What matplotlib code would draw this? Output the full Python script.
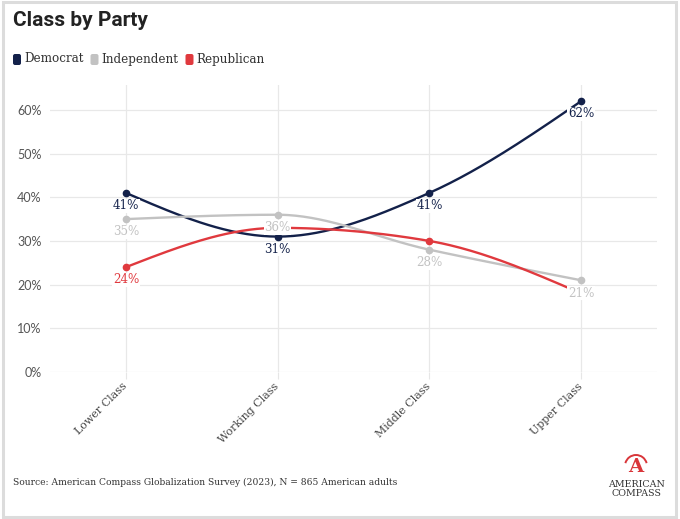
import numpy as np
import matplotlib
matplotlib.use("Agg")
import matplotlib.pyplot as plt
from matplotlib.patches import FancyBboxPatch, Rectangle, Arc
from matplotlib.transforms import IdentityTransform

categories = ["Lower Class", "Working Class", "Middle Class", "Upper Class"]
democrat = [41, 31, 41, 62]
independent = [35, 36, 28, 21]
republican = [24, 33, 30, 18]
y_ticks = [0, 10, 20, 30, 40, 50, 60]

series = [
    ("Democrat", democrat, "#13214a", [True, True, True, True]),
    ("Independent", independent, "#c2c2c2", [True, True, True, True]),
    ("Republican", republican, "#e0393e", [True, False, False, False]),
]

SERIF = "DejaVu Serif"
SANS = "Lato"
W, H = 680, 519


def monotone_x(x, y, n=60):
    # d3 curveMonotoneX style hermite interpolation
    x = np.asarray(x, float)
    y = np.asarray(y, float)
    h = np.diff(x)
    s = np.diff(y) / h
    t = np.zeros_like(y)
    for i in range(1, len(y) - 1):
        p = (s[i - 1] * h[i] + s[i] * h[i - 1]) / (h[i - 1] + h[i])
        t[i] = (np.sign(s[i - 1]) + np.sign(s[i])) * min(abs(s[i - 1]), abs(s[i]), 0.5 * abs(p))
    t[0] = (3 * s[0] - t[1]) / 2
    t[-1] = (3 * s[-1] - t[-2]) / 2
    xs, ys = [], []
    for i in range(len(x) - 1):
        u = np.linspace(0, 1, n)
        h00 = 2 * u**3 - 3 * u**2 + 1
        h10 = u**3 - 2 * u**2 + u
        h01 = -2 * u**3 + 3 * u**2
        h11 = u**3 - u**2
        xs.append(x[i] + u * h[i])
        ys.append(h00 * y[i] + h10 * h[i] * t[i] + h01 * y[i + 1] + h11 * h[i] * t[i + 1])
    return np.concatenate(xs), np.concatenate(ys)


fig = plt.figure(figsize=(W / 100, H / 100), dpi=100)
px = IdentityTransform()
fig.patches.append(Rectangle((0.004, 0.004), 0.99, 0.992, transform=fig.transFigure,
                             fill=False, edgecolor="#dcdcdc", linewidth=2.2))

ax = fig.add_axes([50 / W, 1 - 372 / H, 607 / W, 287 / H])
xpos = np.arange(len(categories))

for name, vals, color, show in series:
    cx, cy = monotone_x(xpos, vals)
    ax.plot(cx, cy, color=color, lw=1.7, zorder=3, solid_capstyle="round")
    ax.plot(xpos, vals, "o", color=color, ms=4.5, zorder=4)

for name, vals, color, show in series:
    for xi, v, s in zip(xpos, vals, show):
        if not s:
            continue
        ax.annotate(f"{v}%", (xi, v), xytext=(0, -4.5), textcoords="offset points",
                    ha="center", va="top", fontsize=8.6, family=SERIF, color=color,
                    zorder=6,
                    bbox=dict(boxstyle="square,pad=0.05", fc="white", ec="none"))

ax.set_xlim(-0.5, len(categories) - 0.5)
ax.set_ylim(0, 65.7)
ax.set_yticks(y_ticks, [f"{v}%" for v in y_ticks])
ax.set_xticks(xpos, categories)
for lab in ax.get_xticklabels():
    lab.set_rotation(45)
    lab.set_rotation_mode("anchor")
    lab.set_ha("right")
    lab.set_va("center")
    lab.set_family(SERIF)
    lab.set_fontsize(7.9)
    lab.set_color("#444444")
for lab in ax.get_yticklabels():
    lab.set_family(SANS)
    lab.set_fontsize(9)
    lab.set_color("#555555")

ax.tick_params(axis="x", length=5, color="#e6e6e6", pad=4)
ax.tick_params(axis="y", length=0, pad=6)
ax.grid(True, color="#e8e8e8", lw=0.9, zorder=0)
ax.set_axisbelow(True)
for sp in ax.spines.values():
    sp.set_visible(False)

fig.text(13 / W, 1 - 20 / H, "Class by Party", fontsize=15, fontweight="bold",
         family="Roboto", color="#222222", va="center", ha="left")

# legend
lx = 13
for name, vals, color, show in series:
    fig.patches.append(FancyBboxPatch((lx, H - 65), 8, 11,
                                      boxstyle="round,pad=0,rounding_size=2",
                                      transform=px, fc=color, ec="none"))
    t = fig.text((lx + 11) / W, 1 - 59 / H, name, fontsize=8.6, family=SERIF,
                 color="#333333", va="center", ha="left")
    fig.canvas.draw()
    bb = t.get_window_extent()
    lx = bb.x1 + 7

fig.text(13 / W, 1 - 482 / H,
         "Source: American Compass Globalization Survey (2023), N = 865 American adults",
         fontsize=6.6, family=SERIF, color="#333333", va="center", ha="left")

# logo
fig.patches.append(Arc((636, H - 466), 22, 22, theta1=15, theta2=165, transform=px,
                       color="#d9363a", lw=1.4))
fig.text(636 / W, 1 - 467 / H, "A", fontsize=14, family=SERIF, fontweight="bold",
         color="#d9363a", va="center", ha="center")
fig.text(637 / W, 1 - 489 / H, "AMERICAN\nCOMPASS", fontsize=6.8, family=SERIF,
         color="#333333", va="center", ha="center", linespacing=1.05)

fig.savefig("out.png", dpi=100)
